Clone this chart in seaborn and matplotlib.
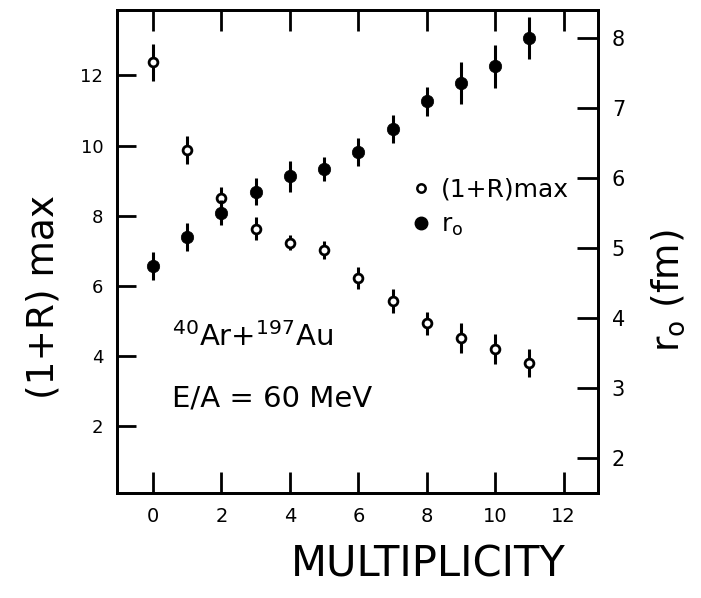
import numpy as np
import pandas as pd
import matplotlib
matplotlib.use("Agg")
import matplotlib.pyplot as plt
import seaborn as sns
from matplotlib.lines import Line2D

# ---- data ----
multiplicity = [0, 1, 2, 3, 4, 5, 6, 7, 8, 9, 10, 11]
one_plus_r_max = [12.37, 9.86, 8.51, 7.63, 7.23, 7.03, 6.23, 5.57, 4.94, 4.51, 4.20, 3.80]
one_plus_r_err = [0.52, 0.40, 0.30, 0.32, 0.22, 0.25, 0.32, 0.35, 0.33, 0.42, 0.43, 0.40]
r0_values = [4.74, 5.16, 5.51, 5.81, 6.03, 6.13, 6.37, 6.71, 7.10, 7.36, 7.60, 8.00]
r0_err = [0.20, 0.20, 0.18, 0.19, 0.22, 0.17, 0.20, 0.20, 0.21, 0.30, 0.31, 0.30]
x_ticks = [0, 2, 4, 6, 8, 10, 12]
left_ticks = [2, 4, 6, 8, 10, 12]
right_ticks = [2, 3, 4, 5, 6, 7, 8]

df = pd.DataFrame({"M": multiplicity, "R": one_plus_r_max, "Rerr": one_plus_r_err,
                   "r0": r0_values, "r0err": r0_err})

sns.set_style("white")
plt.rcParams['font.family'] = ['DejaVu Sans']
plt.rcParams.update({"text.color": "black", "axes.labelcolor": "black",
                     "xtick.color": "black", "ytick.color": "black"})

fig = plt.figure(figsize=(7.01, 5.98), dpi=100)
ax = fig.add_axes([0.167, 0.1756, 0.686, 0.807])
ax2 = ax.twinx()

# (1+R)max : open circles
ax.errorbar(df["M"], df["R"], yerr=df["Rerr"], fmt="none", ecolor="black",
            elinewidth=2.2, capsize=0, zorder=2)
sns.scatterplot(data=df, x="M", y="R", ax=ax, marker="o", s=40,
                facecolor="white", edgecolor="black", linewidth=2.0, zorder=3, legend=False)

# r0 : filled circles
ax2.errorbar(df["M"], df["r0"], yerr=df["r0err"], fmt="none", ecolor="black",
             elinewidth=2.2, capsize=0, zorder=2)
sns.scatterplot(data=df, x="M", y="r0", ax=ax2, marker="o", s=80,
                color="black", edgecolor="black", linewidth=0.5, zorder=3, legend=False)

ax.set_xlim(-1.05, 13.0)
ax.set_ylim(0.1, 13.85)
ax2.set_ylim(1.5, 8.4)

ax.set_xticks(x_ticks)
ax.set_yticks(left_ticks)
ax2.set_yticks(right_ticks)
ax.set_xticklabels([str(t) for t in x_ticks], fontsize=14)
ax.set_yticklabels([str(t) for t in left_ticks], fontsize=13)
ax2.set_yticklabels([str(t) for t in right_ticks], fontsize=15)

ax.tick_params(axis="x", direction="in", length=15, width=2, top=True, bottom=True, pad=10)
ax.tick_params(axis="y", direction="in", length=14, width=2, left=True, right=False, pad=10)
ax2.tick_params(axis="y", direction="in", length=15, width=2, right=True, left=False, pad=10)

for a in (ax, ax2):
    for s in a.spines.values():
        s.set_linewidth(2.0)
        s.set_color("black")

ax.set_xlabel("MULTIPLICITY", fontsize=30)
ax.xaxis.set_label_coords(0.647, -0.105)
ax.set_ylabel("(1+R) max", fontsize=27)
ax.yaxis.set_label_coords(-0.115, 0.406)
ax2.set_ylabel(r"r$_\mathrm{o}$ (fm)", fontsize=27, rotation=90)
ax2.yaxis.set_label_coords(1.108, 0.42)

ax.text(0.56, 4.55, r"$^{40}$Ar+$^{197}$Au", fontsize=21, ha="left", va="center")
ax.text(0.56, 2.8, "E/A = 60 MeV", fontsize=21, ha="left", va="center")

handles = [
    Line2D([], [], marker="o", linestyle="none", markersize=6, markerfacecolor="white",
           markeredgecolor="black", markeredgewidth=1.8, label="(1+R)max"),
    Line2D([], [], marker="o", linestyle="none", markersize=9, markerfacecolor="black",
           markeredgecolor="black", label=r"r$_\mathrm{o}$"),
]
ax.legend(handles=handles, loc="upper left", bbox_to_anchor=(0.56, 0.70), frameon=False,
          fontsize=18, handletextpad=0.3, handlelength=1.0, labelspacing=0.45)

fig.savefig("out.png", dpi=100)
